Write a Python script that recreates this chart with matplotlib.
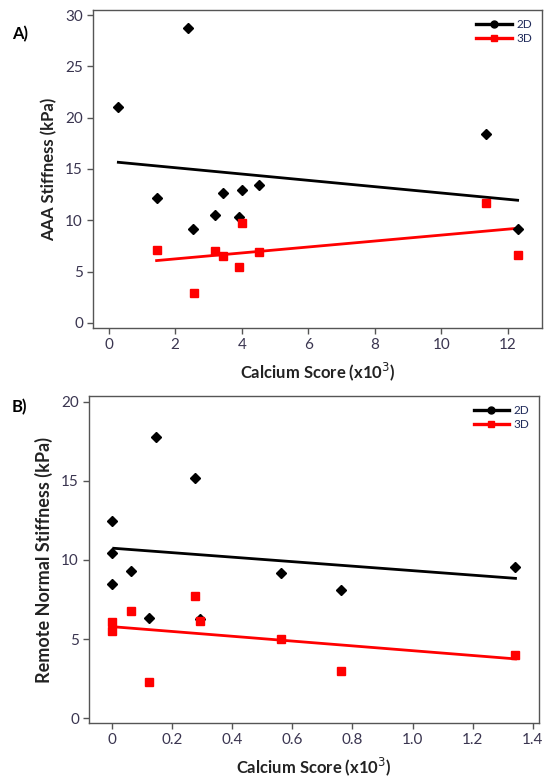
import numpy as np
import matplotlib.pyplot as plt

plt.rcParams['font.family'] = ['Lato', 'DejaVu Sans']

# Panel A data (calcium score x10^3, stiffness kPa)
a_x_2d = [0.29, 2.39, 1.44, 2.53, 3.21, 3.43, 3.91, 4.02, 4.51, 11.35, 12.29]
a_y_2d = [21.0, 28.7, 12.2, 9.15, 10.55, 12.7, 10.3, 12.95, 13.4, 18.37, 9.15]
a_x_3d = [1.44, 2.55, 3.21, 3.43, 3.91, 4.02, 4.51, 11.35, 12.29]
a_y_3d = [7.14, 2.95, 7.0, 6.5, 5.4, 9.75, 6.9, 11.7, 6.65]
a_fit_x_2d = [0.29, 12.29]
a_fit_y_2d = [15.65, 11.95]
a_fit_x_3d = [1.44, 12.29]
a_fit_y_3d = [6.07, 9.22]

# Panel B data
b_x_2d = [0.0, 0.0, 0.0, 0.066, 0.149, 0.124, 0.276, 0.294, 0.564, 0.761, 1.342]
b_y_2d = [12.48, 10.44, 8.48, 9.33, 17.75, 6.36, 15.16, 6.27, 9.18, 8.08, 9.56]
b_x_3d = [0.0, 0.0, 0.066, 0.124, 0.276, 0.294, 0.564, 0.761, 1.342]
b_y_3d = [6.08, 5.49, 6.76, 2.27, 7.75, 6.13, 4.99, 2.99, 4.0]
b_fit_x_2d = [0.007, 1.342]
b_fit_y_2d = [10.74, 8.84]
b_fit_x_3d = [0.0, 1.342]
b_fit_y_3d = [5.79, 3.75]

tick_col = '#3a3550'
spine_col = '#555555'

fig = plt.figure(figsize=(5.47, 7.77), dpi=100)
axA = fig.add_axes([0.1707, 0.5779, 0.820, 0.4093])
axB = fig.add_axes([0.1633, 0.0695, 0.822, 0.4208])


def draw(ax, x2, y2, x3, y3, fx2, fy2, fx3, fy3):
    ax.plot(fx2, fy2, color='black', lw=2.0, zorder=2)
    ax.plot(fx3, fy3, color='red', lw=2.0, zorder=2)
    ax.plot(x2, y2, 'D', color='black', ms=5.2, mec='black', zorder=3)
    ax.plot(x3, y3, 's', color='red', ms=5.5, mec='red', zorder=3)
    # legend proxies
    ax.plot([], [], '-o', color='black', lw=2.4, ms=5, label='2D')
    ax.plot([], [], '-s', color='red', lw=2.4, ms=5, label='3D')
    h, l = ax.get_legend_handles_labels()
    leg = ax.legend(h[-2:], l[-2:], loc='upper right', frameon=False,
                    fontsize=8.5, handlelength=3.0, handletextpad=0.4,
                    labelspacing=0.25, borderaxespad=0.4)
    for t in leg.get_texts():
        t.set_color('#1f2a5a')
    for s in ax.spines.values():
        s.set_color(spine_col)
        s.set_linewidth(1.0)
    ax.tick_params(colors=spine_col, labelcolor=tick_col, labelsize=11,
                   length=4, width=1)
    ax.set_xlabel('Calcium Score (x10$^3$)', fontsize=12, fontweight='bold',
                  color='#222222', labelpad=6)


draw(axA, a_x_2d, a_y_2d, a_x_3d, a_y_3d,
     a_fit_x_2d, a_fit_y_2d, a_fit_x_3d, a_fit_y_3d)
axA.set_xlim(-0.46, 13.02)
axA.set_ylim(-0.5, 30.5)
axA.set_xticks([0, 2, 4, 6, 8, 10, 12])
axA.set_yticks([0, 5, 10, 15, 20, 25, 30])
axA.set_ylabel('AAA Stiffness (kPa)', fontsize=12, fontweight='bold',
               color='#222222', labelpad=6)

draw(axB, b_x_2d, b_y_2d, b_x_3d, b_y_3d,
     b_fit_x_2d, b_fit_y_2d, b_fit_x_3d, b_fit_y_3d)
axB.set_xlim(-0.074, 1.42)
axB.set_ylim(-0.3, 20.36)
axB.set_xticks([0, 0.2, 0.4, 0.6, 0.8, 1.0, 1.2, 1.4])
axB.set_xticklabels(['0', '0.2', '0.4', '0.6', '0.8', '1.0', '1.2', '1.4'])
axB.set_yticks([0, 5, 10, 15, 20])
axB.set_ylabel('Remote Normal Stiffness (kPa)', fontsize=13,
               fontweight='bold', color='#222222', labelpad=6)

fig.text(0.022, 0.950, 'A)', fontsize=12, fontweight='bold')
fig.text(0.022, 0.470, 'B)', fontsize=12, fontweight='bold')

fig.savefig('out.png', dpi=100)
